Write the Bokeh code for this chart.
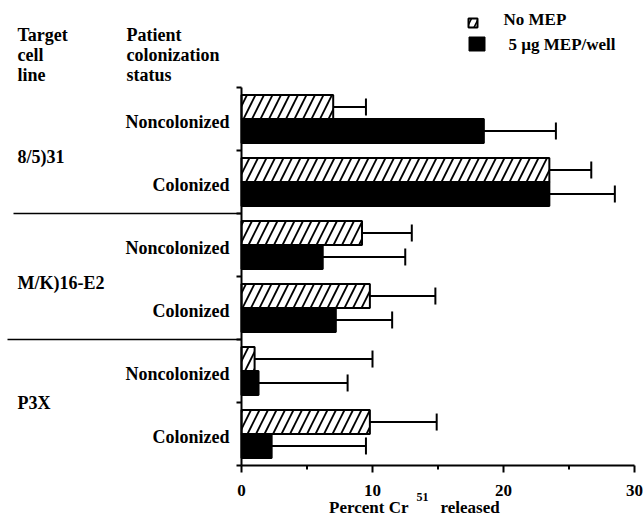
from bokeh.plotting import figure
from bokeh.models import ColumnDataSource, Range1d
from bokeh.core.properties import value
from bokeh.embed import file_html
from bokeh.resources import INLINE

# ---------------- data ----------------
cell_lines = ["8/5)31", "M/K)16-E2", "P3X"]
status = ["Noncolonized", "Colonized", "Noncolonized", "Colonized", "Noncolonized", "Colonized"]
no_mep = [7.0, 23.5, 9.2, 9.8, 1.0, 9.8]
no_mep_err = [2.5, 3.2, 3.8, 5.0, 9.0, 5.1]
mep = [18.5, 23.5, 6.2, 7.2, 1.3, 2.3]
mep_err = [5.5, 5.0, 6.3, 4.3, 6.8, 7.2]
x_major = [0, 10, 20, 30]
x_minor = [5, 15, 25]
x_tick_labels = ["0", "10", "20", "30"]
series_labels = ["No MEP", "5 \u00b5g MEP/well"]

# ---------------- layout helpers (picture pixel -> data) ----------------
W, H = 643, 519
X0_PX, X30_PX = 241, 634          # pixel x of value 0 and 30
Y0_PX, PX_PER_SLOT = 465, 63       # pixel y of slot 0 and slot height
PXU = (X30_PX - X0_PX) / 30.0


def dx(px):
    return (px - X0_PX) / PXU


def dy(py):
    return (Y0_PX - py) / PX_PER_SLOT


n = len(status)
FONT = value("Liberation Serif")
TXT = dict(text_font=FONT, text_font_style="bold", text_color="black", text_baseline="middle")

p = figure(width=W, height=H, output_backend="svg", toolbar_location=None,
           x_range=Range1d(dx(0), dx(W)), y_range=Range1d(dy(H), dy(0)),
           x_axis_location=None, y_axis_location=None,
           min_border_left=0, min_border_right=0, min_border_top=0, min_border_bottom=0)
p.outline_line_color = None
p.grid.visible = False
p.background_fill_color = "white"
p.border_fill_color = "white"

# ---------------- bars ----------------
BAR_H = 0.38
yc = [n - i - 0.5 for i in range(n)]
y_hatch = [y + BAR_H / 2 for y in yc]
y_black = [y - BAR_H / 2 for y in yc]

src_h = ColumnDataSource(dict(y=y_hatch, v=no_mep, e=[a + b for a, b in zip(no_mep, no_mep_err)]))
src_b = ColumnDataSource(dict(y=y_black, v=mep, e=[a + b for a, b in zip(mep, mep_err)]))

HATCH = dict(hatch_pattern="/", hatch_color="black", hatch_weight=1.8, hatch_scale=17)
p.hbar(y="y", right="v", left=0, height=BAR_H, source=src_h, fill_color="white",
       line_color="black", line_width=2, **HATCH)
p.hbar(y="y", right="v", left=0, height=BAR_H, source=src_b, fill_color="black",
       line_color="black", line_width=2)

CAP = 0.135
for src in (src_h, src_b):
    p.segment(x0="v", y0="y", x1="e", y1="y", source=src, line_color="black", line_width=2)
    d = src.data
    p.segment(x0=d["e"], y0=[y - CAP for y in d["y"]], x1=d["e"], y1=[y + CAP for y in d["y"]],
              line_color="black", line_width=2)

# ---------------- x axis (line, ticks, labels) ----------------
p.segment(x0=[0], y0=[0], x1=[30], y1=[0], line_color="black", line_width=2)
p.segment(x0=x_major, y0=[0] * len(x_major), x1=x_major, y1=[dy(472)] * len(x_major),
          line_color="black", line_width=2)
p.segment(x0=x_minor, y0=[0] * len(x_minor), x1=x_minor, y1=[dy(469)] * len(x_minor),
          line_color="black", line_width=2)
p.text(x=x_major, y=[dy(490)] * len(x_major), text=x_tick_labels, text_align="center",
       text_font_size="17px", **TXT)

# x axis title with superscript
p.text(x=[dx(408)], y=[dy(507)], text=["Percent Cr"], text_align="right",
       text_font_size="17px", **TXT)
p.text(x=[dx(416)], y=[dy(496)], text=["51"], text_align="left",
       text_font_size="12px", **TXT)
p.text(x=[dx(440)], y=[dy(507)], text=["released"], text_align="left",
       text_font_size="17px", **TXT)

# ---------------- y axis spine (drawn at x = 0) ----------------
p.segment(x0=[0], y0=[0], x1=[0], y1=[n], line_color="black", line_width=2)
ticks_y = list(range(n + 1))
p.segment(x0=[dx(236)] * len(ticks_y), y0=ticks_y, x1=[0] * len(ticks_y), y1=ticks_y,
          line_color="black", line_width=2)
# group separators
sep_y = [4, 2]
p.segment(x0=[dx(13), dx(7)], y0=sep_y, x1=[0, 0], y1=sep_y, line_color="black", line_width=1.5)

# ---------------- labels ----------------
p.text(x=[dx(229)] * n, y=[y - 0.04 for y in yc], text=status, text_align="right",
       text_font_size="18px", **TXT)
group_y = [5 - 0.11, 3 - 0.1, 1.0]
p.text(x=[dx(17)] * 3, y=group_y, text=cell_lines, text_align="left",
       text_font_size="18px", **TXT)
header_y = [dy(34), dy(54), dy(74)]
for x_px, lines in [(17, ["Target", "cell", "line"]),
                    (126, ["Patient", "colonization", "status"])]:
    p.text(x=[dx(x_px)] * 3, y=header_y, text=lines, text_align="left",
           text_font_size="18px", **TXT)

# ---------------- legend ----------------
p.rect(x=[dx(472.5)], y=[dy(22.5)], width=9 / PXU, height=9 / PX_PER_SLOT, fill_color="white",
       line_color="black", line_width=2, hatch_pattern="/", hatch_color="black",
       hatch_weight=1.6, hatch_scale=14)
p.rect(x=[dx(476.5)], y=[dy(43.5)], width=16 / PXU, height=14 / PX_PER_SLOT, fill_color="black",
       line_color="black")
p.text(x=[dx(503), dx(508)], y=[dy(19), dy(44)], text=series_labels, text_align="left",
       text_font_size="17px", **TXT)

open("out.html", "w").write(file_html(p, INLINE))
